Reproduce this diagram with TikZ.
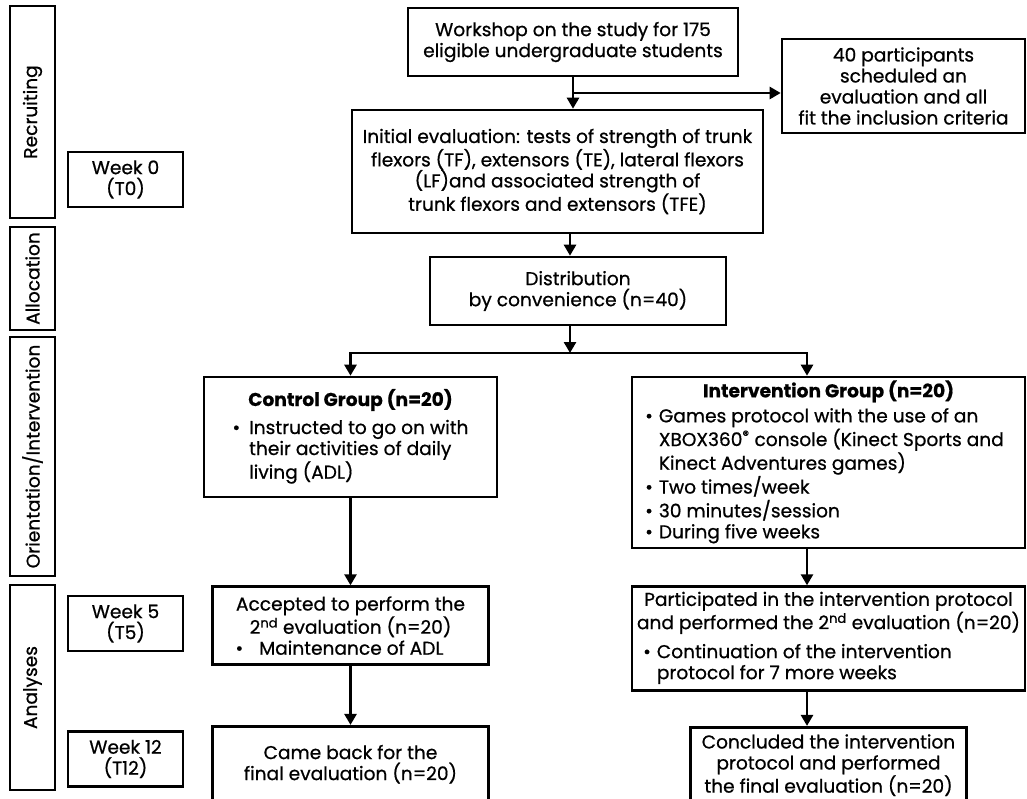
\documentclass[tikz,border=0pt]{standalone}
\usepackage{fontspec}
\setmainfont{Poppins}[FakeBold=0.7]
\usetikzlibrary{arrows.meta,positioning,calc}

\begin{document}
\begin{tikzpicture}[
    x=1pt, y=-1pt,
    font=\fontsize{18.6pt}{21pt}\selectfont,
    box/.style={rectangle, draw, line width=2.6pt, align=center, inner sep=2pt},
    phase/.style={box, rotate=90, minimum width=#1, minimum height=45pt, font=\fontsize{18.6pt}{20pt}\selectfont},
    week/.style={box, minimum width=115pt, minimum height=55pt},
    arrow/.style={line width=2.6pt, -{Triangle[length=11pt,width=12pt]}}
]
\useasboundingbox (0,0) rectangle (1027,798);

% study phases on the left
\node[phase=212pt] (recruit) at (32.5,112) {Recruiting};
\node[phase=103pt] (alloc) at (32.5,278.5) {Allocation};
\node[phase=239pt] (orient) at (32.5,456.5) {Orientation/Intervention};
\node[phase=205pt] (analyses) at (32.5,687.5) {Analyses};

\node[week] (week0) at (125.5,179.5) {Week 0\\(T0)};
\node[week] (week5) at (125.5,623.5) {Week 5\\(T5)};
\node[week] (week12) at (125.5,759) {Week 12\\(T12)};

% flow
\node[box, minimum width=330pt, minimum height=68pt] (workshop) at (573,42) {Workshop on the study for 175\\eligible undergraduate students};
\node[box, minimum width=243pt, minimum height=94pt] (scheduled) at (903.5,86) {40 participants\\scheduled an\\evaluation and all\\fit the inclusion criteria};
\node[box, minimum width=411pt, minimum height=123pt] (initial) at (557.5,171.5) {Initial evaluation: tests of strength of trunk\\flexors (TF), extensors (TE), lateral flexors\\(LF)and associated strength of\\trunk flexors and extensors (TFE)};
\node[box, minimum width=296pt, minimum height=68pt] (distrib) at (578,291) {Distribution\\by convenience (n=40)};

\node[box, minimum width=293pt, minimum height=120pt] (control) at (350.5,437) {{\bfseries Control Group (n=20)}\\[7pt]
  \begin{tabular}[t]{@{}l@{\hspace{9pt}}l@{}}
  \textbullet & Instructed to go on with\\
              & their activities of daily\\
              & living (ADL)
  \end{tabular}};
\node[box, minimum width=393pt, minimum height=171pt] (interv) at (828.5,462.5) {{\bfseries Intervention Group (n=20)}\\[4pt]
  \begin{tabular}[t]{@{}l@{\hspace{6pt}}l@{}}
  \textbullet & Games protocol with the use of an\\
              & XBOX360\textsuperscript{\textregistered} console (Kinect Sports and\\
              & Kinect Adventures games)\\
  \textbullet & Two times/week\\
  \textbullet & 30 minutes/session\\
  \textbullet & During five weeks
  \end{tabular}\hspace*{8pt}};

\node[box, minimum width=276pt, minimum height=78pt, below=87pt of control] (accepted) {Accepted to perform the\\2\textsuperscript{nd} evaluation (n=20)\\
  \textbullet\hspace{16pt}Maintenance of ADL\hspace*{22pt}};
\node[box, minimum width=276pt, minimum height=76pt, below=59pt of accepted] (comeback) {Came back for the\\final evaluation (n=20)};

\node[box, minimum width=393pt, minimum height=104pt, below=36pt of interv] (particip) {Participated in the intervention protocol\\and performed the 2\textsuperscript{nd} evaluation (n=20)\\[8pt]
  \begin{tabular}[t]{@{}l@{\hspace{6pt}}l@{}}
  \textbullet & Continuation of the intervention\\
              & protocol for 7 more weeks
  \end{tabular}\hspace*{62pt}};
\node[box, minimum width=276pt, minimum height=76pt, below=34pt of particip] (concluded) {Concluded the intervention\\protocol and performed\\the final evaluation (n=20)};

% connectors
\coordinate (fork) at ($(workshop.south)!0.5!(workshop.south |- initial.north)$);
\coordinate (split) at (570,353);
\coordinate (rightdrop) at (807,353);

\draw[arrow] (workshop.south) -- (workshop.south |- initial.north);
\draw[arrow] (fork) -- (fork -| scheduled.west);
\draw[arrow] (initial.south -| split) -- (distrib.north -| split);
\draw[arrow] (distrib.south -| split) -- (split);
\draw[arrow] (split) -| (control.north);
\draw[arrow] (split) -| (interv.north -| rightdrop);
\draw[arrow] (control) -- (accepted);
\draw[arrow] (accepted) -- (comeback);
\draw[arrow] (interv.south -| rightdrop) -- (particip.north -| rightdrop);
\draw[arrow] (particip.south -| rightdrop) -- (concluded.north -| rightdrop);

\end{tikzpicture}
\end{document}
